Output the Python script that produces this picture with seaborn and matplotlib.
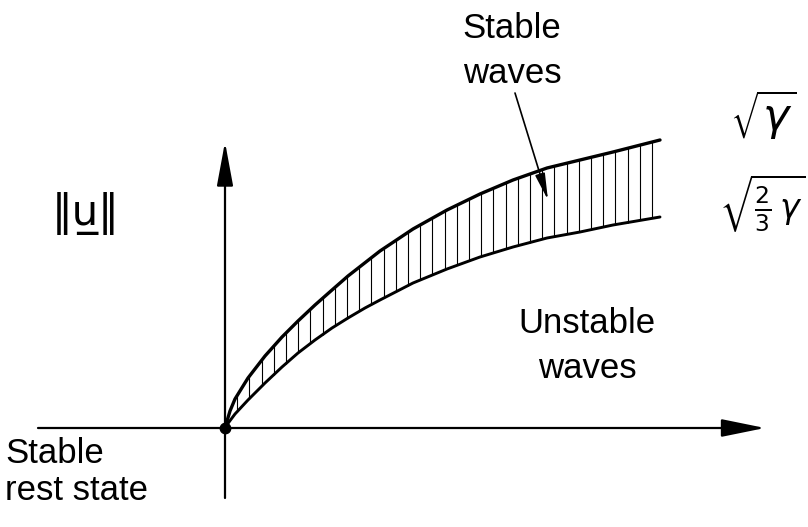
import numpy as np
import pandas as pd
import seaborn as sns
import matplotlib
matplotlib.use('Agg')
import matplotlib.pyplot as plt

# band edges (x along the axis, y above it, pixel-ish units)
upper_x = [0, 2, 5, 10, 23, 40, 57, 73, 90, 107, 123, 155, 188, 222, 255, 288, 322, 355, 388, 435]
upper_y = [0, 7, 17, 29, 50, 72, 91, 107, 123, 138, 152, 177, 199, 218, 234, 248, 260, 268, 276, 288]
lower_x = [0, 4, 10, 23, 40, 57, 73, 90, 107, 123, 140, 155, 188, 222, 255, 288, 322, 355, 388, 435]
lower_y = [0, 6, 14, 28, 45, 61, 75, 88, 100, 110, 120, 128, 145, 159, 171, 181, 190, 196, 203, 211]

label_top = r'$\sqrt{\gamma}$'
label_bottom = r'$\sqrt{\frac{2}{3}\,\gamma}$'

sns.set_style('white')
plt.rcParams['font.family'] = ['Liberation Sans', 'DejaVu Sans']
plt.rcParams['mathtext.fontset'] = 'dejavusans'
plt.rcParams['text.color'] = 'black'

fig = plt.figure(figsize=(8.08, 5.27), dpi=100)
ax = fig.add_axes([0, 0, 1, 1])
ax.set_xlim(-225, 583)
ax.set_ylim(-99, 428)
ax.axis('off')

up = pd.DataFrame({'x': upper_x, 'y': upper_y})
lo = pd.DataFrame({'x': lower_x, 'y': lower_y})
sns.lineplot(data=up, x='x', y='y', ax=ax, color='black', lw=2.4, sort=False)
sns.lineplot(data=lo, x='x', y='y', ax=ax, color='black', lw=2.1, sort=False)

# vertical hatching between the two edges
hx = np.arange(0, 436, 12.2)
ax.vlines(hx, np.interp(hx, lower_x, lower_y), np.interp(hx, upper_x, upper_y),
          color='black', lw=0.8)

# axes with arrows
ax.annotate('', xy=(540, 0), xytext=(-187, 0),
            arrowprops=dict(arrowstyle='-|>,head_length=2.7,head_width=0.55',
                            color='black', lw=1.6, shrinkA=0, shrinkB=0))
ax.annotate('', xy=(0, 286), xytext=(0, -70),
            arrowprops=dict(arrowstyle='-|>,head_length=2.7,head_width=0.5',
                            color='black', lw=1.6, shrinkA=0, shrinkB=0))
ax.plot([0], [0], 'o', color='black', ms=7.5)

# pointer to the stable band
ax.annotate('', xy=(323, 228), xytext=(290, 335),
            arrowprops=dict(arrowstyle='-|>,head_length=1.6,head_width=0.3',
                            color='black', lw=1.2, shrinkA=0, shrinkB=0))

fs = 25
ax.text(287, 390, 'Stable', fontsize=fs, ha='center', va='baseline')
ax.text(287, 345, 'waves', fontsize=fs, ha='center', va='baseline')
ax.text(362, 95, 'Unstable', fontsize=fs, ha='center', va='baseline')
ax.text(362, 50, 'waves', fontsize=fs, ha='center', va='baseline')
ax.text(-220, -35, 'Stable', fontsize=fs, ha='left', va='baseline')
ax.text(-220, -72, 'rest state', fontsize=fs, ha='left', va='baseline')
ax.text(-139, 203, '\u2016u\u0332\u2016', fontsize=30, ha='center', va='baseline',
        family=['DejaVu Sans'])
ax.text(538, 313, label_top, fontsize=32, ha='center', va='center')
ax.text(537, 225, label_bottom, fontsize=24, ha='center', va='center')

plt.savefig('out.png', dpi=100)
